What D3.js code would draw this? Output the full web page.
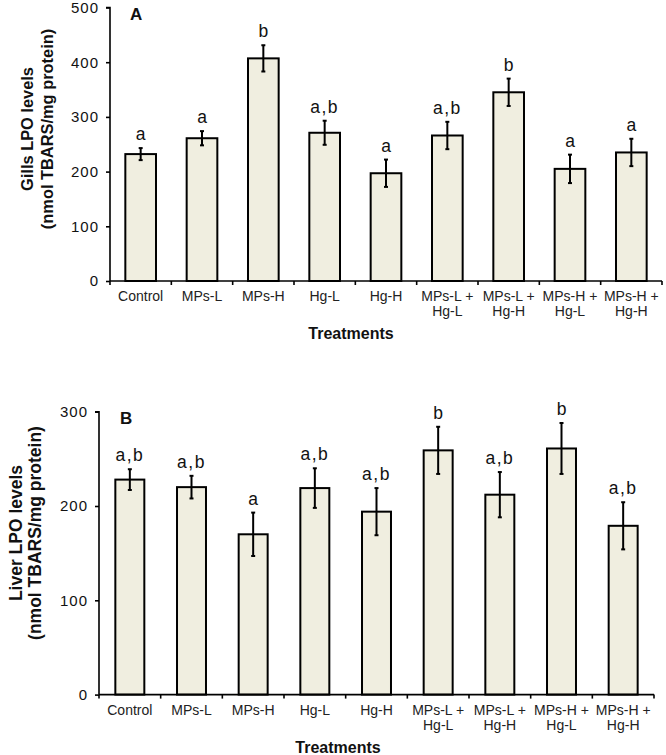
<!DOCTYPE html>
<html>
<head>
<meta charset="utf-8">
<script src="https://cdn.jsdelivr.net/npm/d3@7"></script>
<style>
  html, body { margin: 0; padding: 0; background: #fff; }
  svg { display: block; font-family: "Liberation Sans", Arial, sans-serif; }
</style>
</head>
<body>
<svg id="chart" width="666" height="755"></svg>
<script>
// ---- data ----
const categories = ["Control", "MPs-L", "MPs-H", "Hg-L", "Hg-H",
  "MPs-L + Hg-L", "MPs-L + Hg-H", "MPs-H + Hg-L", "MPs-H + Hg-H"];
const categoryLines = [["Control"], ["MPs-L"], ["MPs-H"], ["Hg-L"], ["Hg-H"],
  ["MPs-L +", "Hg-L"], ["MPs-L +", "Hg-H"], ["MPs-H +", "Hg-L"], ["MPs-H +", "Hg-H"]];

const gillsMean = [232, 261, 407, 271, 197, 266, 345, 205, 235];
const gillsErr = [11, 13, 24, 22, 25, 25, 25, 26, 25];
const gillsLetters = ["a", "a", "b", "a,b", "a", "a,b", "b", "a", "a"];
const gillsTicks = [0, 100, 200, 300, 400, 500];

const liverMean = [228, 220, 170, 219, 194, 259, 212, 261, 179];
const liverErr = [11, 12, 23, 21, 25, 25, 24, 27, 25];
const liverLetters = ["a,b", "a,b", "a", "a,b", "a,b", "b", "a,b", "b", "a,b"];
const liverTicks = [0, 100, 200, 300];

const svg = d3.select("#chart");

function panel(cfg) {
  const g = svg.append("g");
  const x = d3.scaleBand().domain(categories).range([cfg.x0, cfg.x1]).paddingInner(cfg.pad).paddingOuter(cfg.pad / 2);
  const xb = d3.scaleBand().domain(categories).range([cfg.x0, cfg.x1]);
  const y = d3.scaleLinear().domain([0, cfg.ymax]).range([cfg.y0, cfg.y1]);
  const data = categories.map((c, i) => ({ c, m: cfg.mean[i], e: cfg.err[i], l: cfg.letters[i], lines: categoryLines[i] }));

  // bars
  g.selectAll("rect.bar").data(data).join("rect")
    .attr("x", d => x(d.c)).attr("width", x.bandwidth())
    .attr("y", d => y(d.m)).attr("height", d => y(0) - y(d.m))
    .attr("fill", "#f0eee0").attr("stroke", "#000").attr("stroke-width", 2);

  // error bars
  const cx = d => xb(d.c) + xb.bandwidth() / 2;
  g.selectAll("line.err").data(data).join("line")
    .attr("x1", cx).attr("x2", cx)
    .attr("y1", d => y(d.m + d.e)).attr("y2", d => y(d.m - d.e))
    .attr("stroke", "#000").attr("stroke-width", 2);
  ["top", "bot"].forEach(k => {
    g.selectAll("line.cap" + k).data(data).join("line")
      .attr("x1", d => cx(d) - 2).attr("x2", d => cx(d) + 2)
      .attr("y1", d => y(k === "top" ? d.m + d.e : d.m - d.e))
      .attr("y2", d => y(k === "top" ? d.m + d.e : d.m - d.e))
      .attr("stroke", "#000").attr("stroke-width", 2);
  });

  // letters
  g.selectAll("text.letter").data(data).join("text")
    .attr("x", cx).attr("y", d => y(d.m + d.e) - 8)
    .attr("text-anchor", "middle").attr("font-size", 17.5)
    .attr("letter-spacing", d => d.l.length > 1 ? 1.5 : 0)
    .attr("fill", "#111").text(d => d.l);

  // y axis
  const ya = d3.axisLeft(y).tickValues(cfg.ticks).tickSize(4).tickPadding(7).tickFormat(d3.format("d"));
  const yg = g.append("g").attr("transform", `translate(${cfg.x0},0)`).call(ya);
  yg.select(".domain").attr("stroke-width", 1.6).attr("d", `M-4,${y(cfg.ymax)}H0V${y(0)}`);
  yg.selectAll(".tick line").attr("stroke-width", 1.6);
  yg.selectAll(".tick text").attr("font-size", 15).attr("letter-spacing", 1)
    .attr("font-family", "'Liberation Sans', Arial, sans-serif").attr("fill", "#111");

  // x axis with ticks at band boundaries
  const xg = g.append("g");
  xg.append("line").attr("x1", cfg.x0).attr("x2", cfg.x1).attr("y1", y(0)).attr("y2", y(0))
    .attr("stroke", "#000").attr("stroke-width", 1.6);
  const bounds = categories.map(c => xb(c)).concat([cfg.x1]);
  xg.selectAll("line.xt").data(bounds).join("line")
    .attr("x1", d => d).attr("x2", d => d).attr("y1", y(0)).attr("y2", y(0) + 4)
    .attr("stroke", "#000").attr("stroke-width", 1.6);

  // category labels
  const lab = xg.selectAll("text.cat").data(data).join("text")
    .attr("text-anchor", "middle").attr("font-size", 14).attr("fill", "#222");
  lab.selectAll("tspan").data(d => d.lines.map(t => ({ t, d }))).join("tspan")
    .attr("x", o => cx(o.d)).attr("y", (o, i) => y(0) + 20 + i * 15).text(o => o.t);

  // x title
  g.append("text").attr("x", cfg.xtX).attr("y", y(0) + 58).attr("text-anchor", "middle")
    .attr("font-size", 16).attr("font-weight", "bold").attr("fill", "#111").text("Treatments");

  // y title
  const yt = g.append("text").attr("transform", `translate(0,${cfg.ytY}) rotate(-90)`)
    .attr("text-anchor", "middle").attr("font-weight", "bold").attr("font-size", cfg.ytSize).attr("fill", "#111");
  cfg.ytLines.forEach((t, i) => {
    yt.append("tspan").attr("x", 0).attr("y", cfg.ytX[i]).text(t);
  });

  // panel letter
  g.append("text").attr("x", cfg.x0 + cfg.pl[0]).attr("y", cfg.pl[1])
    .attr("font-size", 17).attr("font-weight", "bold").attr("fill", "#111").text(cfg.label);
}

panel({
  x0: 110, x1: 662, y0: 281, y1: 7.5, ymax: 500, pad: 0.5,
  mean: gillsMean, err: gillsErr, letters: gillsLetters, ticks: gillsTicks,
  xtX: 351, ytY: 129, ytX: [33, 53], ytSize: 16.4,
  ytLines: ["Gills LPO levels", "(nmol TBARS/mg protein)"],
  label: "A", pl: [20, 19.5]
});

panel({
  x0: 99, x1: 654, y0: 694.6, y1: 411.7, ymax: 300, pad: 0.53,
  mean: liverMean, err: liverErr, letters: liverLetters, ticks: liverTicks,
  xtX: 338, ytY: 533, ytX: [22, 41], ytSize: 17.5,
  ytLines: ["Liver LPO levels", "(nmol TBARS/mg protein)"],
  label: "B", pl: [21, 423.5]
});
</script>
</body>
</html>
